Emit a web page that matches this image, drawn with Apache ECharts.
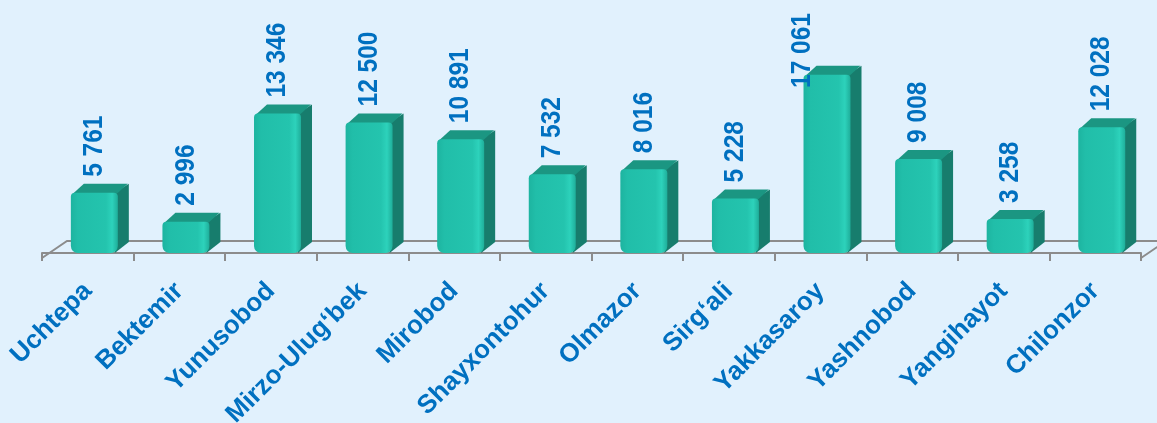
<!DOCTYPE html>
<html>
<head>
<meta charset="utf-8">
<script src="https://cdn.jsdelivr.net/npm/echarts@6/dist/echarts.min.js"></script>
<style>
  html, body { margin: 0; padding: 0; background: #e1f1fd; }
  #chart { width: 1157px; height: 423px; }
</style>
</head>
<body>
<div id="chart"></div>
<script>
var districts = ['Uchtepa', 'Bektemir', 'Yunusobod', 'Mirzo-Ulug‘bek', 'Mirobod', 'Shayxontohur',
                 'Olmazor', 'Sirg‘ali', 'Yakkasaroy', 'Yashnobod', 'Yangihayot', 'Chilonzor'];
var counts = [5761, 2996, 13346, 12500, 10891, 7532, 8016, 5228, 17061, 9008, 3258, 12028];

var blue = '#0070c0';
var depthX = 11, depthY = 9;

function fmt(v) {
    // thousands separated with a space
    return String(v).replace(/\B(?=(\d{3})+(?!\d))/g, ' ');
}

var myChart = echarts.init(document.getElementById('chart'));

var option = {
    backgroundColor: '#e1f1fd',
    animation: false,
    grid: { left: 42, right: 16, top: 65, bottom: 170, outerBoundsMode: 'none' },
    xAxis: {
        type: 'category',
        data: districts,
        offset: 5,
        axisLine: { lineStyle: { color: '#8c8c8c', width: 2 } },
        axisTick: { show: true, length: 8, lineStyle: { color: '#8c8c8c', width: 2 } },
        axisLabel: {
            rotate: 45,
            margin: 29,
            color: blue,
            fontSize: 26,
            fontWeight: 'bold',
            fontFamily: 'Liberation Sans',
            interval: 0
        }
    },
    yAxis: {
        type: 'value',
        min: 0,
        max: 18000,
        show: false,
        splitLine: { show: false }
    },
    series: [
        {
            // floor of the 3D plot
            type: 'custom',
            silent: true,
            data: [[0]],
            z: 1,
            renderItem: function (params, api) {
                var cs = params.coordSys;
                var fy = cs.y + cs.height + 5;
                var x1 = cs.x, x2 = cs.x + cs.width;
                var bx = 25, by = 17;
                return {
                    type: 'polyline',
                    shape: { points: [[x1, fy], [x1 + bx, fy - by], [x2 + bx, fy - by], [x2, fy]] },
                    style: { stroke: '#8c8c8c', lineWidth: 2, fill: null }
                };
            }
        },
        {
            type: 'custom',
            data: counts.map(function (v, i) { return [i, v]; }),
            z: 2,
            renderItem: function (params, api) {
                var base = api.coord([api.value(0), 0]);
                var top = api.coord([api.value(0), api.value(1)]);
                var band = api.size([1, 0])[0];
                var w = band * 0.513;
                var x0 = base[0] - band * 0.185;
                var ty = top[1], by = base[1];
                var txt = fmt(api.value(1));
                var labLen = txt.length * 0.51 * 24.5;
                var ly = ty - depthY - 7;
                var lx = x0 + w / 2;
                // label would leave the chart: keep it inside, pushed aside
                if (ly < 13 + labLen) {
                    ly = 13 + labLen;
                    lx -= band * 0.27;
                }
                return {
                    type: 'group',
                    children: [
                        {
                            type: 'polygon',
                            shape: { points: [[x0 + w - 3, ty], [x0 + w + depthX, ty - depthY], [x0 + w + depthX, by - depthY - 2], [x0 + w - 3, by]] },
                            style: { fill: '#177d6d' }
                        },
                        {
                            type: 'polygon',
                            shape: { points: [[x0 + 2, ty + 1], [x0 + depthX + 2, ty - depthY], [x0 + w + depthX - 1, ty - depthY], [x0 + w - 1, ty + 1]] },
                            style: { fill: '#1b9682' }
                        },
                        {
                            type: 'rect',
                            shape: { x: x0, y: ty, width: w, height: by - ty, r: [4, 4, 7, 7] },
                            style: {
                                fill: new echarts.graphic.LinearGradient(0, 0, 1, 0, [
                                    { offset: 0, color: '#1db4a0' },
                                    { offset: 0.15, color: '#21bea9' },
                                    { offset: 0.75, color: '#24c4ae' },
                                    { offset: 0.88, color: '#2dd2bb' },
                                    { offset: 1, color: '#1fae9a' }
                                ])
                            }
                        },
                        {
                            type: 'text',
                            x: lx,
                            y: ly,
                            rotation: Math.PI / 2,
                            scaleY: 1.14,
                            z2: 10,
                            style: {
                                text: txt,
                                fill: blue,
                                font: 'bold 24.5px "Liberation Sans"',
                                align: 'left',
                                verticalAlign: 'middle'
                            }
                        }
                    ]
                };
            }
        }
    ]
};

myChart.setOption(option);
</script>
</body>
</html>
